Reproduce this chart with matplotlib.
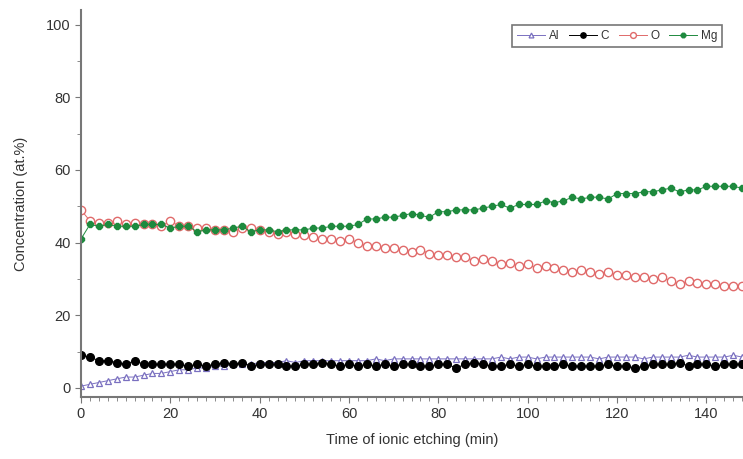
"""Concentration vs ionic etching time."""

import numpy as np
import matplotlib
matplotlib.use("Agg")
import matplotlib.pyplot as plt
from matplotlib.ticker import MultipleLocator

plt.rcParams["font.family"] = ["Liberation Sans", "DejaVu Sans"]

# etching time (min), one point every 2 min
time_min = np.arange(0, 150, 2)

al = [0.5, 1, 1.5, 2, 2.5, 3, 3, 3.5, 4, 4, 4.5, 5, 5, 5.5, 5.5, 6, 6, 6.5, 6.5, 6.5,
      7, 7, 7, 7.5, 7, 7.5, 7.5, 7.5, 7.5, 7.5, 7.5, 7.5, 7.5, 8, 7.5, 8, 8, 8, 8, 8,
      8, 8, 8, 8, 8, 8, 8, 8.5, 8, 8.5, 8.5, 8, 8.5, 8.5, 8.5, 8.5, 8.5, 8.5, 8, 8.5,
      8.5, 8.5, 8.5, 8, 8.5, 8.5, 8.5, 8.5, 9, 8.5, 8.5, 8.5, 8.5, 9, 8.5]

c = [9, 8.5, 7.5, 7.5, 7, 6.5, 7.5, 6.5, 6.5, 6.5, 6.5, 6.5, 6, 6.5, 6, 6.5, 7, 6.5, 7, 6,
     6.5, 6.5, 6.5, 6, 6, 6.5, 6.5, 7, 6.5, 6, 6.5, 6, 6.5, 6, 6.5, 6, 6.5, 6.5, 6, 6,
     6.5, 6.5, 5.5, 6.5, 7, 6.5, 6, 6, 6.5, 6, 6.5, 6, 6, 6, 6.5, 6, 6, 6, 6, 6.5,
     6, 6, 5.5, 6, 6.5, 6.5, 6.5, 7, 6, 6.5, 6.5, 6, 6.5, 6.5, 6.5]

o = [49, 46, 45.5, 45.5, 46, 45, 45.5, 45, 45, 44.5, 46, 44.5, 44.5, 44, 44, 43.5, 43.5, 43, 44, 44,
     43.5, 43, 42.5, 43, 42.5, 42, 41.5, 41, 41, 40.5, 41, 40, 39, 39, 38.5, 38.5, 38, 37.5, 38, 37,
     36.5, 36.5, 36, 36, 35, 35.5, 35, 34, 34.5, 33.5, 34, 33, 33.5, 33, 32.5, 32, 32.5, 32, 31.5, 32,
     31, 31, 30.5, 30.5, 30, 30.5, 29.5, 28.5, 29.5, 29, 28.5, 28.5, 28, 28, 28]

mg = [41, 45, 44.5, 45, 44.5, 44.5, 44.5, 45, 45, 45, 44, 44.5, 44.5, 43, 43.5, 43.5, 43.5, 44, 44.5, 43,
      43.5, 43.5, 43, 43.5, 43.5, 43.5, 44, 44, 44.5, 44.5, 44.5, 45, 46.5, 46.5, 47, 47, 47.5, 48, 47.5, 47,
      48.5, 48.5, 49, 49, 49, 49.5, 50, 50.5, 49.5, 50.5, 50.5, 50.5, 51.5, 51, 51.5, 52.5, 52, 52.5, 52.5, 52,
      53.5, 53.5, 53.5, 54, 54, 54.5, 55, 54, 54.5, 54.5, 55.5, 55.5, 55.5, 55.5, 55]

text_col = "#333333"

fig = plt.figure(figsize=(7.43, 4.59), dpi=100)
ax = fig.add_axes([0.109, 0.135, 0.891, 0.843])

ax.plot(time_min, al, color="#7a70c0", lw=0.7, marker="^", ms=5, mfc="white",
        mec="#7a70c0", mew=0.9, label="Al")
ax.plot(time_min, c, color="black", lw=0.7, marker="o", ms=5.5, mfc="black",
        mec="black", label="C")
ax.plot(time_min, o, color="#e06a6a", lw=0.7, marker="o", ms=6, mfc="white",
        mec="#e06a6a", mew=1.0, label="O")
ax.plot(time_min, mg, color="#1e8a3e", lw=0.7, marker="8", ms=5, mfc="#1e8a3e",
        mec="#1e8a3e", label="Mg")

ax.set_xlim(0, 148.2)
ax.set_ylim(-2.5, 104)
ax.xaxis.set_major_locator(MultipleLocator(20))
ax.xaxis.set_minor_locator(MultipleLocator(2))
ax.yaxis.set_major_locator(MultipleLocator(20))
ax.yaxis.set_minor_locator(MultipleLocator(10))
ax.set_yticks([0, 20, 40, 60, 80, 100])

for side in ["top", "right"]:
    ax.spines[side].set_visible(False)
for side in ["left", "bottom"]:
    ax.spines[side].set_color("#777777")
    ax.spines[side].set_linewidth(1.5)

ax.tick_params(which="both", direction="out", color="#777777", labelsize=10.5,
               labelcolor=text_col)
ax.tick_params(which="major", length=4)
ax.tick_params(which="minor", length=3)

ax.set_xlabel("Time of ionic etching (min)", fontsize=10.5, labelpad=8, color=text_col)
ax.set_ylabel("Concentration (at.%)", fontsize=10.5, labelpad=13, color=text_col)

leg = ax.legend(loc="upper right", bbox_to_anchor=(0.977, 0.976), ncol=4, fontsize=8.5,
                handlelength=2.4, handletextpad=0.3, columnspacing=0.8,
                fancybox=False, edgecolor="#555555", borderpad=0.4,
                markerscale=0.7)
leg.get_frame().set_linewidth(1.2)
for t in leg.get_texts():
    t.set_color(text_col)

plt.savefig("out.png", dpi=100)
